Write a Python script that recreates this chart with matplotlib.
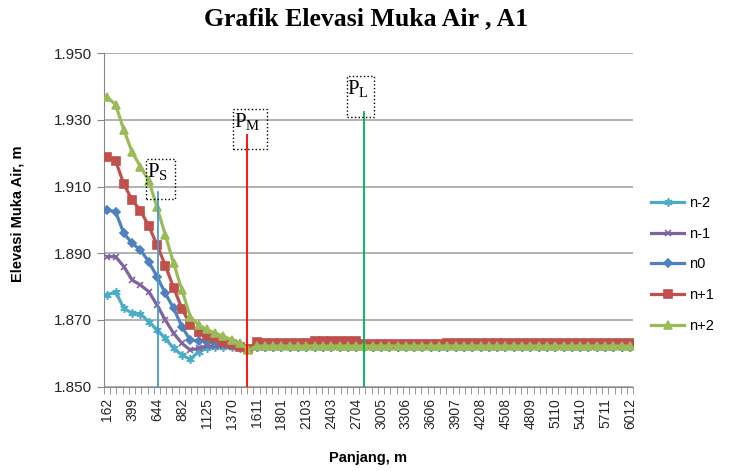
# -*- coding: utf-8 -*-
""" Grafik elevasi muka air, A1 """

import numpy as np
import matplotlib.pyplot as plt
from matplotlib.patches import Rectangle

plt.rcParams['font.family'] = 'Liberation Sans'
plt.rcParams['mathtext.fontset'] = 'custom'
plt.rcParams['mathtext.rm'] = 'Liberation Serif'

# station labels (every 3rd category is labelled)
stations = ['162', '399', '644', '882', '1125', '1370', '1611', '1801', '2103',
            '2403', '2704', '3005', '3306', '3606', '3907', '4208', '4508',
            '4809', '5110', '5410', '5711', '6012']
label_step = 3

# water surface elevation, m (64 points per series)
n_m2 = [1.8775, 1.8785, 1.8735, 1.8720, 1.8718, 1.8695, 1.8670, 1.8645, 1.8615,
        1.8595, 1.8582, 1.8605, 1.8615, 1.8620, 1.8620, 1.8618, 1.8617, 1.8612,
        1.8620, 1.8620, 1.8620, 1.8620, 1.8620, 1.8620, 1.8620, 1.8620, 1.8620,
        1.8620, 1.8620, 1.8620, 1.8620, 1.8620, 1.8620, 1.8620, 1.8620, 1.8620,
        1.8620, 1.8620, 1.8620, 1.8620, 1.8620, 1.8620, 1.8620, 1.8620, 1.8620,
        1.8620, 1.8620, 1.8620, 1.8620, 1.8620, 1.8620, 1.8620, 1.8620, 1.8620,
        1.8620, 1.8620, 1.8620, 1.8620, 1.8620, 1.8620, 1.8620, 1.8620, 1.8620,
        1.8620]
n_m1 = [1.8890, 1.8890, 1.8860, 1.8820, 1.8805, 1.8785, 1.8745, 1.8700, 1.8660,
        1.8630, 1.8610, 1.8615, 1.8622, 1.8622, 1.8622, 1.8620, 1.8620, 1.8612,
        1.8620, 1.8620, 1.8620, 1.8620, 1.8620, 1.8620, 1.8620, 1.8620, 1.8620,
        1.8620, 1.8620, 1.8620, 1.8620, 1.8620, 1.8620, 1.8620, 1.8620, 1.8620,
        1.8620, 1.8620, 1.8620, 1.8620, 1.8620, 1.8620, 1.8620, 1.8620, 1.8620,
        1.8620, 1.8620, 1.8620, 1.8620, 1.8620, 1.8620, 1.8620, 1.8620, 1.8620,
        1.8620, 1.8620, 1.8620, 1.8620, 1.8620, 1.8620, 1.8620, 1.8620, 1.8620,
        1.8620]
n_0 = [1.9030, 1.9025, 1.8960, 1.8930, 1.8910, 1.8875, 1.8830, 1.8780, 1.8735,
       1.8680, 1.8640, 1.8637, 1.8635, 1.8632, 1.8630, 1.8625, 1.8620, 1.8612,
       1.8620, 1.8620, 1.8620, 1.8620, 1.8620, 1.8620, 1.8620, 1.8620, 1.8620,
       1.8620, 1.8620, 1.8620, 1.8620, 1.8620, 1.8620, 1.8620, 1.8620, 1.8620,
       1.8620, 1.8620, 1.8620, 1.8620, 1.8620, 1.8620, 1.8620, 1.8620, 1.8620,
       1.8620, 1.8620, 1.8620, 1.8620, 1.8620, 1.8620, 1.8620, 1.8620, 1.8620,
       1.8620, 1.8620, 1.8620, 1.8620, 1.8620, 1.8620, 1.8620, 1.8620, 1.8620,
       1.8620]
n_p1 = [1.9188, 1.9178, 1.9107, 1.9060, 1.9028, 1.8982, 1.8925, 1.8863, 1.8797,
        1.8734, 1.8686, 1.8665, 1.8653, 1.8645, 1.8635, 1.8628, 1.8620, 1.8612,
        1.8635, 1.8632, 1.8632, 1.8632, 1.8632, 1.8632, 1.8632, 1.8638, 1.8638,
        1.8638, 1.8638, 1.8638, 1.8638, 1.8629, 1.8629, 1.8629, 1.8629, 1.8629,
        1.8629, 1.8629, 1.8629, 1.8629, 1.8629, 1.8631, 1.8631, 1.8631, 1.8631,
        1.8631, 1.8631, 1.8631, 1.8631, 1.8631, 1.8631, 1.8631, 1.8631, 1.8631,
        1.8631, 1.8631, 1.8631, 1.8631, 1.8631, 1.8631, 1.8631, 1.8631, 1.8631,
        1.8631]
n_p2 = [1.9368, 1.9346, 1.9270, 1.9203, 1.9160, 1.9118, 1.9038, 1.8955, 1.8870,
        1.8790, 1.8710, 1.8685, 1.8672, 1.8660, 1.8652, 1.8640, 1.8632, 1.8610,
        1.8622, 1.8622, 1.8622, 1.8622, 1.8622, 1.8622, 1.8622, 1.8622, 1.8622,
        1.8622, 1.8622, 1.8622, 1.8622, 1.8622, 1.8622, 1.8622, 1.8622, 1.8622,
        1.8622, 1.8622, 1.8622, 1.8622, 1.8622, 1.8622, 1.8622, 1.8622, 1.8622,
        1.8622, 1.8622, 1.8622, 1.8622, 1.8622, 1.8622, 1.8622, 1.8622, 1.8622,
        1.8622, 1.8622, 1.8622, 1.8622, 1.8622, 1.8622, 1.8622, 1.8622, 1.8622,
        1.8622]

names = ['n-2', 'n-1', 'n0', 'n+1', 'n+2']
colors = ['#4bacc6', '#8064a2', '#4f81bd', '#c0504d', '#9bbb59']
markers = [(6, 2, 0), 'x', 'D', 's', '^']
msizes = [6, 5, 4, 5.5, 5.5]

# Ps, PM, PL marker lines (category position, top elevation)
p_names = [r'$\mathrm{P_S}$', r'$\mathrm{P_M}$', r'$\mathrm{P_L}$']
p_pos = [6.15, 16.8, 30.9]
p_top = [1.9085, 1.9255, 1.9324]
p_colors = ['#4a9ad6', '#ff0000', '#00b050']
# dotted label boxes (x0, x1, y0, y1)
p_boxes = [(4.72, 8.2, 1.9063, 1.9183),
           (15.16, 19.24, 1.9213, 1.9333),
           (28.85, 32.2, 1.9309, 1.9432)]

fig = plt.figure(figsize=(7.32, 4.71), dpi=100)
ax = fig.add_axes([0.142, 0.179, 0.723, 0.708])

x = np.arange(len(n_0))
for vals, nm, c, m, ms in zip([n_m2, n_m1, n_0, n_p1, n_p2], names, colors,
                              markers, msizes):
    ax.plot(x, vals, color=c, lw=2.3, marker=m, ms=ms, mfc=c, mec=c,
            mew=1.2, label=nm, zorder=3)

for px, pt, pc in zip(p_pos, p_top, p_colors):
    ax.plot([px, px], [1.85, pt], color=pc, lw=1.3, zorder=4)

for (x0, x1, y0, y1), txt in zip(p_boxes, p_names):
    ax.add_patch(Rectangle((x0, y0), x1 - x0, y1 - y0, fill=False, ls=':',
                           lw=1.0, ec='black', zorder=5))
    ax.text(x0 + 0.1, y1 - 0.0006, txt, fontsize=15, va='top', ha='left',
            zorder=6)

ax.set_ylim(1.85, 1.95)
ax.set_yticks(np.arange(1.85, 1.951, 0.02))
ax.set_yticklabels(['%.3f' % v for v in np.arange(1.85, 1.951, 0.02)],
                   fontsize=11, color='#262626')
xl = (-0.4, 63.4)
ax.set_xlim(xl)
ax.set_xticks(np.arange(0, len(x), label_step))
ax.set_xticklabels(stations, rotation=90, fontsize=10, color='#262626')
ax.set_xticks(np.linspace(xl[0], xl[1], 86), minor=True)
ax.tick_params(axis='x', which='major', length=0, pad=8)
ax.tick_params(axis='x', which='minor', length=5, color='#888888')
ax.tick_params(axis='y', length=5, color='#888888')

ax.yaxis.grid(True, color='#a6a6a6', lw=1.2)
ax.set_axisbelow(True)
for s in ['top', 'right']:
    ax.spines[s].set_visible(False)
for s in ['left', 'bottom']:
    ax.spines[s].set_color('#888888')

fig.text(0.5, 1 - 19 / 471, 'Grafik Elevasi Muka Air , A1', ha='center',
         va='center', fontsize=18.5, fontweight='bold',
         family='Liberation Serif')
fig.text(18 / 732, 1 - 214 / 471, 'Elevasi Muka Air, m', rotation=90,
         ha='center', va='center', fontsize=10.5, fontweight='bold')
fig.text(368 / 732, 1 - 458 / 471, 'Panjang, m', ha='center', va='center',
         fontsize=10.5, fontweight='bold')

fig.legend(loc='upper left', bbox_to_anchor=(645 / 732, 1 - 190 / 471),
           frameon=False, fontsize=10.5, handlelength=2.3, handletextpad=0.3,
           labelspacing=1.15, borderaxespad=0)

fig.savefig('out.png', dpi=100)
